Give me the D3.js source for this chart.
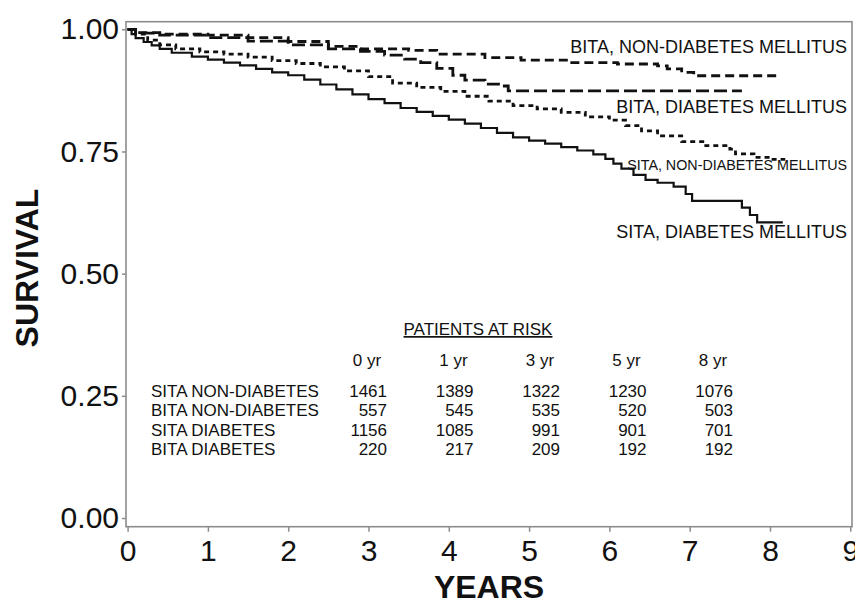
<!DOCTYPE html>
<html>
<head>
<meta charset="utf-8">
<script src="https://cdnjs.cloudflare.com/ajax/libs/d3/7.8.5/d3.min.js"></script>
<style>
	body { margin: 0; background: #fff; }
	svg text { font-family: "Liberation Sans", Arial, sans-serif; fill: #111; }
</style>
</head>
<body>
<section></section>
<script>
//	survival curves: [years, survival]
var sitaDM = [
	[0, 1.0], [0.05, 0.99], [0.1, 0.982], [0.2, 0.974], [0.3, 0.967], [0.4, 0.96], [0.55, 0.952],
	[0.8, 0.944], [1.0, 0.938], [1.2, 0.932], [1.4, 0.926], [1.6, 0.919], [1.8, 0.912], [2.0, 0.906],
	[2.2, 0.897], [2.4, 0.887], [2.6, 0.877], [2.8, 0.867], [3.0, 0.857], [3.2, 0.849], [3.4, 0.839],
	[3.6, 0.831], [3.8, 0.823], [4.0, 0.815], [4.2, 0.807], [4.4, 0.798], [4.6, 0.788], [4.8, 0.779],
	[5.0, 0.772], [5.2, 0.766], [5.4, 0.759], [5.6, 0.752], [5.8, 0.744], [5.95, 0.735], [6.05, 0.725],
	[6.15, 0.715], [6.3, 0.702], [6.45, 0.692], [6.6, 0.686], [6.8, 0.678], [6.95, 0.663], [7.03, 0.649],
	[7.65, 0.635], [7.75, 0.62], [7.84, 0.605], [8.16, 0.605]
];
var sitaNonDM = [
	[0, 1.0], [0.1, 0.99], [0.25, 0.978], [0.4, 0.968], [0.6, 0.96], [0.9, 0.954], [1.2, 0.949],
	[1.5, 0.943], [1.8, 0.936], [2.1, 0.93], [2.4, 0.923], [2.7, 0.915], [3.0, 0.903], [3.3, 0.89],
	[3.6, 0.881], [3.9, 0.873], [4.2, 0.863], [4.5, 0.853], [4.8, 0.844], [5.1, 0.837], [5.4, 0.83],
	[5.7, 0.821], [6.0, 0.814], [6.2, 0.803], [6.4, 0.792], [6.6, 0.782], [6.9, 0.77], [7.2, 0.762],
	[7.5, 0.755], [7.57, 0.745], [7.8, 0.738], [8.0, 0.734], [8.19, 0.734]
];
var bitaNonDM = [
	[0, 1.0], [0.1, 0.993], [0.4, 0.99], [1.0, 0.988], [1.5, 0.983], [2.0, 0.975], [2.5, 0.965],
	[2.9, 0.96], [3.5, 0.957], [3.85, 0.949], [4.45, 0.942], [4.9, 0.937], [5.5, 0.932], [6.1, 0.929],
	[6.6, 0.925], [6.72, 0.919], [6.9, 0.912], [7.05, 0.905], [8.12, 0.905]
];
var bitaDM = [
	[0, 1.0], [0.1, 0.992], [0.4, 0.988], [1.0, 0.983], [1.5, 0.976], [2.0, 0.968], [2.5, 0.96],
	[2.9, 0.955], [3.2, 0.947], [3.45, 0.939], [3.65, 0.932], [3.85, 0.92], [4.05, 0.906], [4.2, 0.896],
	[4.45, 0.888], [4.65, 0.884], [4.74, 0.874], [7.65, 0.874]
];

var xTicks = [0, 1, 2, 3, 4, 5, 6, 7, 8, 9];
var yTicks = [0, 0.25, 0.5, 0.75, 1];

//	patients at risk table
var riskCols = ["0 yr", "1 yr", "3 yr", "5 yr", "8 yr"];
var riskRows = ["SITA NON-DIABETES", "BITA NON-DIABETES", "SITA DIABETES", "BITA DIABETES"];
var riskSitaNonDM = [1461, 1389, 1322, 1230, 1076];
var riskBitaNonDM = [557, 545, 535, 520, 503];
var riskSitaDM = [1156, 1085, 991, 901, 701];
var riskBitaDM = [220, 217, 209, 192, 192];

var curveLabels = ["BITA, NON-DIABETES MELLITUS", "BITA, DIABETES MELLITUS", "SITA, NON-DIABETES MELLITUS", "SITA, DIABETES MELLITUS"];

var W = 855, H = 606;
var frame = {left: 126, top: 21.7, right: 852, bottom: 526.7};

var svg = d3.select("section").append("svg").attr("width", W).attr("height", H);

var x = d3.scaleLinear().domain([0, 9]).range([127.6, 850.3]);
var y = d3.scaleLinear().domain([0, 1]).range([518, 29.3]);

//	frame
svg.append("rect")
	.attr("x", frame.left).attr("y", frame.top)
	.attr("width", frame.right - frame.left).attr("height", frame.bottom - frame.top)
	.attr("fill", "none").attr("stroke", "#8c8c8c").attr("stroke-width", 1.6);

//	axes
var xAxis = svg.append("g").attr("transform", "translate(0," + frame.bottom + ")")
	.call(d3.axisBottom(x).tickValues(xTicks).tickSize(5).tickPadding(8).tickFormat(d3.format("d")));
var yAxis = svg.append("g").attr("transform", "translate(" + frame.left + ",0)")
	.call(d3.axisLeft(y).tickValues(yTicks).tickSize(4).tickPadding(3).tickFormat(d3.format(".2f")));

[xAxis, yAxis].forEach(function(ax){
	ax.select(".domain").remove();
	ax.selectAll(".tick line").attr("stroke", "#8c8c8c").attr("stroke-width", 1.5);
	ax.selectAll(".tick text").attr("font-size", 30).attr("font-family", "Liberation Sans, Arial, sans-serif").attr("fill", "#111");
});
xAxis.selectAll(".tick text").attr("dy", "0.71em");

//	axis titles
svg.append("text").text("YEARS")
	.attr("x", 489).attr("y", 598).attr("text-anchor", "middle")
	.attr("font-size", 32).attr("font-weight", "bold");
svg.append("text").text("SURVIVAL")
	.attr("transform", "translate(38,268) rotate(-90)").attr("text-anchor", "middle")
	.attr("font-size", 32).attr("font-weight", "bold");

//	survival curves
var line = d3.line()
	.x(function(d){ return x(d[0]); })
	.y(function(d){ return y(d[1]); })
	.curve(d3.curveStepAfter);

var series = [
	{data: sitaDM,    dash: null,   width: 2.2},
	{data: sitaNonDM, dash: "5,4",  width: 2.8},
	{data: bitaNonDM, dash: "9,5",  width: 2.8},
	{data: bitaDM,    dash: "13,5", width: 2.8}
];

series.forEach(function(s){
	svg.append("path")
		.attr("d", line(s.data))
		.attr("fill", "none")
		.attr("stroke", "#111")
		.attr("stroke-width", s.width)
		.attr("stroke-dasharray", s.dash);
});

//	curve labels, right aligned inside frame
var labelY = [53, 112.5, 170, 238];
var labelSize = [18, 18, 14.3, 18];
curveLabels.forEach(function(t, i){
	svg.append("text").text(t)
		.attr("x", 847).attr("y", labelY[i])
		.attr("text-anchor", "end")
		.attr("font-size", labelSize[i]);
});

//	patients at risk
var col = d3.scalePoint().domain(riskCols).range([367, 713]);
var rowY = d3.scalePoint().domain(riskRows).range([397, 455]);
var riskValues = [riskSitaNonDM, riskBitaNonDM, riskSitaDM, riskBitaDM];

svg.append("text").text("PATIENTS AT RISK")
	.attr("x", 478).attr("y", 335).attr("text-anchor", "middle")
	.attr("font-size", 17).attr("text-decoration", "underline");

riskCols.forEach(function(c){
	svg.append("text").text(c)
		.attr("x", col(c)).attr("y", 366).attr("text-anchor", "middle")
		.attr("font-size", 17);
});

riskRows.forEach(function(r, i){
	svg.append("text").text(r)
		.attr("x", 151).attr("y", rowY(r))
		.attr("font-size", 17);
	riskValues[i].forEach(function(v, j){
		svg.append("text").text(v)
			.attr("x", col(riskCols[j]) + 20).attr("y", rowY(r))
			.attr("text-anchor", "end")
			.attr("font-size", 17);
	});
});
</script>
</body>
</html>
